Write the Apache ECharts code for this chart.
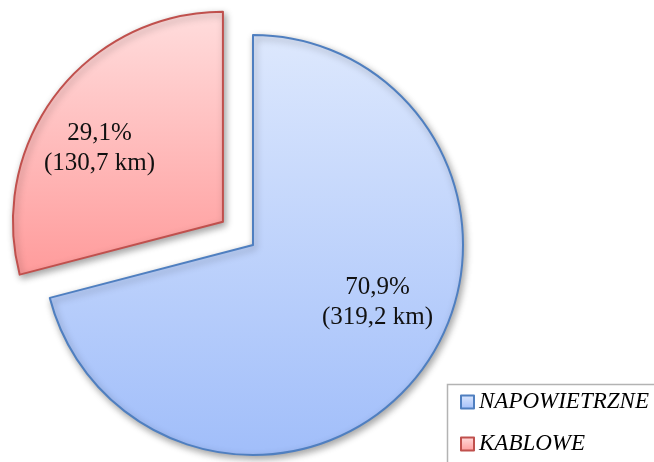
<!DOCTYPE html>
<html>
<head>
<meta charset="utf-8">
<script src="https://cdn.jsdelivr.net/npm/echarts@6/dist/echarts.min.js"></script>
<style>
html,body{margin:0;padding:0;background:#fff;}
#c{width:654px;height:462px;}
</style>
</head>
<body>
<div id="c"></div>
<script>
const categories = ['NAPOWIETRZNE', 'KABLOWE'];
const values = [319.2, 130.7];
const exploded = [false, true];

const fills = [
  ['#dde8fd', '#a1befa'],
  ['#ffdddd', '#ff9b9b']
];
const borders = ['#4f7fc0', '#c0504d'];
const labelShift = [[39, -9], [-38, -7]];

const total = values.reduce((a, b) => a + b, 0);
const fmt = v => v.toFixed(1).replace('.', ',');

const chart = echarts.init(document.getElementById('c'), null, {renderer: 'canvas'});
chart.setOption({
  animation: false,
  backgroundColor: '#ffffff',
  graphic: [{
    type: 'rect',
    left: 445,
    top: 382,
    shape: {width: 260, height: 120},
    style: {fill: 'none', stroke: '#b3b3b3', lineWidth: 1.5},
    silent: true
  }],
  legend: {
    orient: 'vertical',
    left: 460,
    top: 390,
    padding: 0,
    itemGap: 18,
    itemWidth: 13,
    itemHeight: 13,
    selectedMode: false,
    icon: 'rect',
    textStyle: {
      fontFamily: 'Liberation Serif',
      fontStyle: 'italic',
      fontSize: 23,
      lineHeight: 24,
      color: '#000'
    },
    data: categories
  },
  series: [{
    type: 'pie',
    center: [253, 245],
    radius: [0, 210],
    startAngle: 90,
    clockwise: true,
    selectedMode: 'single',
    selectedOffset: 38,
    emphasis: {disabled: true},
    labelLine: {show: false},
    label: {
      show: true,
      position: 'inside',
      fontFamily: 'Liberation Serif',
      fontSize: 25,
      lineHeight: 30,
      color: '#111',
      formatter: p => fmt(p.value / total * 100) + '%\n(' + fmt(p.value) + ' km)'
    },
    labelLayout: p => ({dx: labelShift[p.dataIndex][0], dy: labelShift[p.dataIndex][1]}),
    data: categories.map((name, i) => ({
      name: name,
      value: values[i],
      selected: exploded[i],
      itemStyle: {
        color: new echarts.graphic.LinearGradient(0, 0, 0, 1, [
          {offset: 0, color: fills[i][0]},
          {offset: 1, color: fills[i][1]}
        ]),
        borderColor: borders[i],
        borderWidth: 2,
        shadowBlur: 7,
        shadowColor: 'rgba(0,0,0,0.35)',
        shadowOffsetX: 2,
        shadowOffsetY: 3
      }
    }))
  }]
});
</script>
</body>
</html>
